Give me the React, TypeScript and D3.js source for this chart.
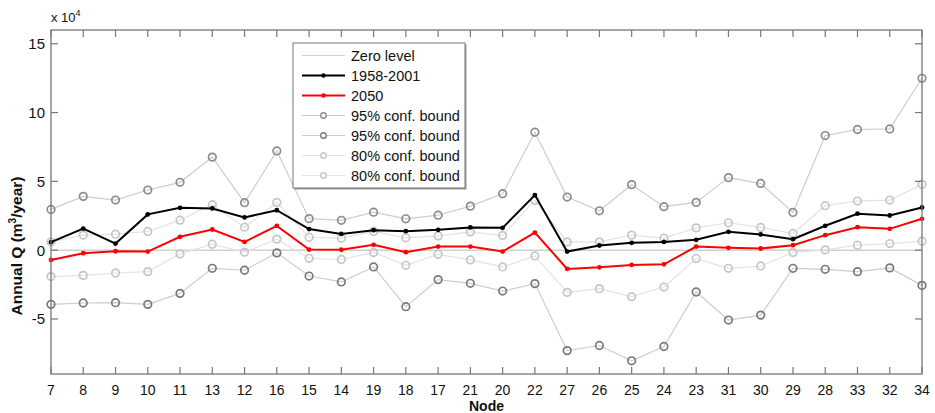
import React from "react";
import * as d3 from "d3";

const nodes = ["7","8","9","10","11","13","12","16","15","14","19","18","17","21","20","22","27","26","25","24","23","31","30","29","28","33","32","34"];
const obs = [0.58,1.57,0.48,2.6,3.08,3.03,2.38,2.9,1.53,1.18,1.45,1.38,1.48,1.65,1.62,4.0,-0.1,0.34,0.53,0.6,0.75,1.33,1.14,0.8,1.77,2.65,2.52,3.1];
const proj2050 = [-0.71,-0.22,-0.08,-0.1,0.97,1.5,0.6,1.76,0.04,0.03,0.39,-0.15,0.26,0.26,-0.1,1.28,-1.36,-1.25,-1.07,-1.03,0.26,0.17,0.12,0.36,1.09,1.67,1.55,2.28];
const upper95 = [2.96,3.91,3.64,4.37,4.93,6.76,3.45,7.21,2.29,2.17,2.76,2.28,2.54,3.2,4.1,8.57,3.86,2.86,4.76,3.16,3.47,5.27,4.85,2.74,8.33,8.77,8.81,12.49];
const lower95 = [-3.94,-3.84,-3.82,-3.94,-3.14,-1.32,-1.46,-0.2,-1.88,-2.31,-1.22,-4.11,-2.14,-2.41,-2.97,-2.43,-7.3,-6.93,-8.04,-7.0,-3.04,-5.08,-4.72,-1.32,-1.39,-1.56,-1.29,-2.56];
const upper80 = [0.6,1.09,1.16,1.36,2.18,3.3,1.67,3.47,0.94,0.87,1.36,0.9,1.04,1.33,1.06,3.62,0.6,0.6,1.09,0.87,1.62,1.99,1.65,1.21,3.23,3.57,3.64,4.78];
const lower80 = [-1.92,-1.83,-1.66,-1.56,-0.27,0.43,-0.15,0.8,-0.59,-0.68,-0.17,-1.1,-0.3,-0.71,-1.22,-0.42,-3.07,-2.8,-3.38,-2.68,-0.61,-1.32,-1.15,-0.17,0.02,0.36,0.48,0.65];
const yTicks = [-5, 0, 5, 10, 15];
const legendLabels = ["Zero level", "1958-2001", "2050", "95% conf. bound", "95% conf. bound", "80% conf. bound", "80% conf. bound"];

const W = 935, H = 413;
const L = 51, R = 922, T = 30, B = 374;
const FONT = "'Liberation Sans', Arial, Helvetica, sans-serif";

export default function App() {
  const x = d3.scalePoint<string>().domain(nodes).range([L, R]);
  const y = d3.scaleLinear().domain([-9, 16]).range([B, T]);
  const line = d3.line<number>().x((_, i) => x(nodes[i])!).y((d) => y(d));

  const bounds = [
    { data: upper95, line: "#cdcdcd", circ: "#8c8c8c" },
    { data: lower95, line: "#cdcdcd", circ: "#7a7a7a" },
    { data: upper80, line: "#e3e3e3", circ: "#c6c6c6" },
    { data: lower80, line: "#e3e3e3", circ: "#c6c6c6" },
  ];

  const legX = 293, legY = 43, legW = 172, legH = 145;
  const rowY = (i: number) => legY + 12.5 + i * 20;
  const legendStyles = [
    { line: "#d0d0d0", w: 1.2, kind: "none", c: "" },
    { line: "#000", w: 2, kind: "dot", c: "#000" },
    { line: "#ff0000", w: 2, kind: "dot", c: "#ff0000" },
    { line: "#cdcdcd", w: 1, kind: "circle", c: "#8c8c8c" },
    { line: "#cdcdcd", w: 1, kind: "circle", c: "#7a7a7a" },
    { line: "#e3e3e3", w: 1, kind: "circle", c: "#c6c6c6" },
    { line: "#e3e3e3", w: 1, kind: "circle", c: "#c6c6c6" },
  ];

  return (
    <svg width={W} height={H} style={{ position: "absolute", left: 0, top: 0, background: "#fff" }} fontFamily={FONT}>
      {/* zero level */}
      <line x1={L} x2={R} y1={y(0)} y2={y(0)} stroke="#d0d0d0" strokeWidth={1.5} />
      {bounds.map((b, k) => (
        <g key={k}>
          <path d={line(b.data)!} fill="none" stroke={b.line} strokeWidth={1.2} />
          {b.data.map((v, i) => (
            <circle key={i} cx={x(nodes[i])} cy={y(v)} r={3.8} fill="none" stroke={b.circ} strokeWidth={1.7} />
          ))}
        </g>
      ))}
      <path d={line(obs)!} fill="none" stroke="#000" strokeWidth={2} />
      {obs.map((v, i) => <circle key={i} cx={x(nodes[i])} cy={y(v)} r={2.4} fill="#000" />)}
      <path d={line(proj2050)!} fill="none" stroke="#ff0000" strokeWidth={2} />
      {proj2050.map((v, i) => <circle key={i} cx={x(nodes[i])} cy={y(v)} r={2.4} fill="#ff0000" />)}

      {/* axes box */}
      <rect x={L} y={T} width={R - L} height={B - T} fill="none" stroke="#777" strokeWidth={1.3} />
      {nodes.map((n) => (
        <g key={n}>
          <line x1={x(n)} x2={x(n)} y1={B} y2={B - 7} stroke="#777" strokeWidth={1.2} />
          <line x1={x(n)} x2={x(n)} y1={T} y2={T + 7} stroke="#777" strokeWidth={1.2} />
          <text x={x(n)} y={395} textAnchor="middle" fontSize={14} fill="#111">{n}</text>
        </g>
      ))}
      {yTicks.map((t) => (
        <g key={t}>
          <line x1={L} x2={L + 7} y1={y(t)} y2={y(t)} stroke="#777" strokeWidth={1.2} />
          <line x1={R} x2={R - 7} y1={y(t)} y2={y(t)} stroke="#777" strokeWidth={1.2} />
          <text x={L - 6} y={y(t) + 5.5} textAnchor="end" fontSize={15} fill="#111">{t}</text>
        </g>
      ))}
      <text x={L} y={22} fontSize={13} fill="#111">x 10<tspan dy={-6} fontSize={9}>4</tspan></text>
      <text x={(L + R) / 2} y={411} textAnchor="middle" fontSize={14} fontWeight="bold" fill="#111">Node</text>
      <text transform={`translate(22, 246) rotate(-90)`} textAnchor="middle" fontSize={15.5} fontWeight="bold" fill="#111">
        Annual Q (m<tspan dy={-6} fontSize={10}>3</tspan><tspan dy={6}>/year)</tspan>
      </text>

      {/* legend */}
      <rect x={legX + 1.5} y={legY + 1.5} width={legW} height={legH} fill="#999" />
      <rect x={legX} y={legY} width={legW} height={legH} fill="#fff" stroke="#777" strokeWidth={1} />
      {legendLabels.map((lab, i) => {
        const s = legendStyles[i];
        const cy = rowY(i);
        return (
          <g key={i}>
            <line x1={legX + 9} x2={legX + 52} y1={cy} y2={cy} stroke={s.line} strokeWidth={s.w} />
            {s.kind === "dot" && <circle cx={legX + 30.5} cy={cy} r={2.2} fill={s.c} />}
            {s.kind === "circle" && <circle cx={legX + 30.5} cy={cy} r={2.8} fill="#fff" stroke={s.c} strokeWidth={1.4} />}
            <text x={legX + 58} y={cy + 5} fontSize={14.5} fill="#111">{lab}</text>
          </g>
        );
      })}
    </svg>
  );
}
